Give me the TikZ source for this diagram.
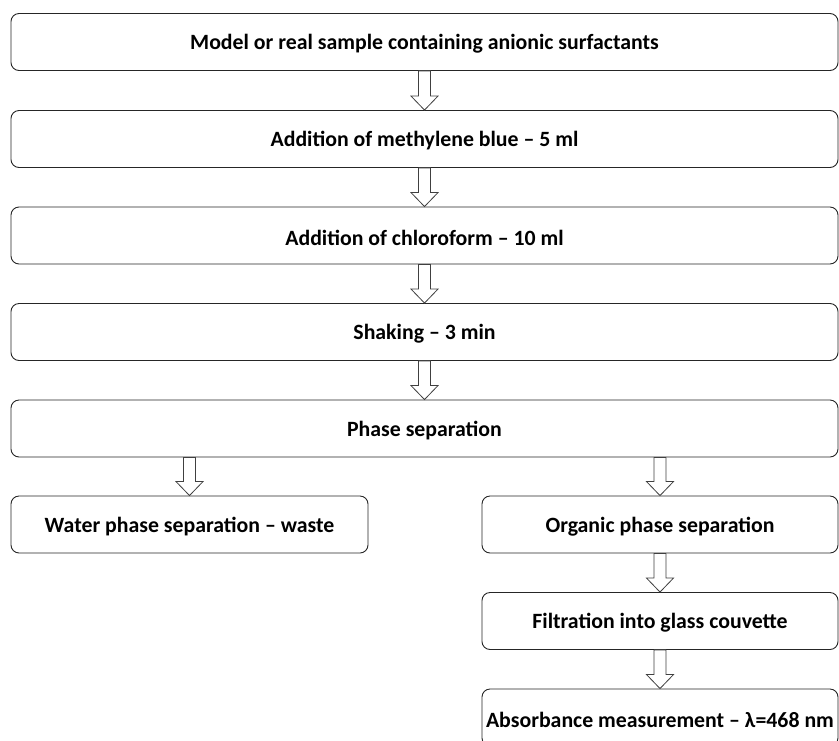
\documentclass[tikz,border=0pt]{standalone}
\usepackage{fontspec}
\setmainfont{Carlito}
\usetikzlibrary{calc}
\tikzset{box/.style={draw=black!85,line width=.9pt,rounded corners=8pt,minimum height=57pt,inner sep=0pt},
 lbl/.style={font=\fontsize{21.8}{26}\selectfont\bfseries,yshift=-2pt},
 arr/.style={draw=black!75,line width=.8pt,fill=white}}
% hollow block arrow from box #1 down to box #2
\newcommand\flowarr[2]{\draw[arr]($(#2.north |- #1.south)+(-6,0)$)--($(#2.north)+(-6,-14)$)--($(#2.north)+(-13.5,-14)$)--(#2.north)--($(#2.north)+(13.5,-14)$)--($(#2.north)+(6,-14)$)--($(#2.north |- #1.south)+(6,0)$)--cycle;}
\begin{document}
\begin{tikzpicture}[x=1pt,y=-1pt]
\useasboundingbox(0,0)rectangle(839,740);\clip(0,0)rectangle(839,740);
\node[box,minimum width=827pt,label={[lbl]center:Model or real sample containing anionic surfactants}](m1)at(424.5,42){};
\node[box,minimum width=827pt,label={[lbl]center:Addition of methylene blue -- 5 ml}](m2)at(424.5,139){};
\node[box,minimum width=827pt,label={[lbl]center:Addition of chloroform -- 10 ml}](m3)at(424.5,235.5){};
\node[box,minimum width=827pt,label={[lbl]center:Shaking -- 3 min}](m4)at(424.5,332){};
\node[box,minimum width=827pt,label={[lbl]center:Phase separation}](m5)at(424.5,428.5){};
\node[box,minimum width=357pt,label={[lbl]center:Water phase separation -- waste}](w)at(189.5,524.5){};
\node[box,minimum width=356pt,label={[lbl]center:Organic phase separation}](o)at(660,524.5){};
\node[box,minimum width=356pt,label={[lbl]center:Filtration into glass couvette}](f)at(660,621){};
\node[box,minimum width=356pt,label={[lbl]center:Absorbance measurement -- λ=468 nm}](a)at(660,717.5){};
\flowarr{m1}{m2}\flowarr{m2}{m3}\flowarr{m3}{m4}\flowarr{m4}{m5}
\flowarr{m5}{w}\flowarr{m5}{o}\flowarr{o}{f}\flowarr{f}{a}
\end{tikzpicture}
\end{document}
